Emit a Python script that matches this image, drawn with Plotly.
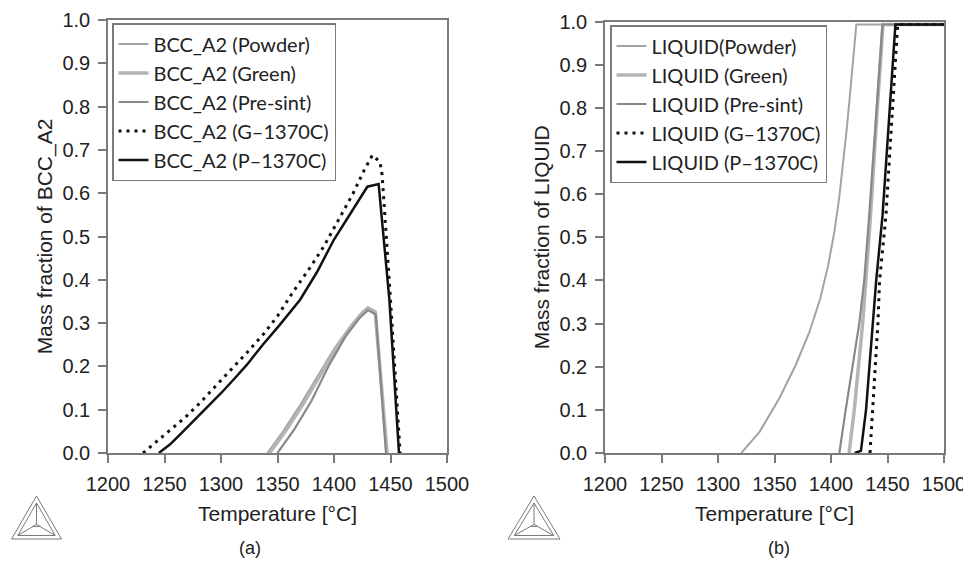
import plotly.graph_objects as go
from plotly.subplots import make_subplots

# ---------------- data ----------------
# Panel (a): mass fraction of BCC_A2 vs temperature
bcc_powder_T = [1341, 1355, 1370, 1385, 1400, 1415, 1425, 1429.5, 1436, 1447]
bcc_powder_v = [0, 0.05, 0.11, 0.175, 0.24, 0.295, 0.325, 0.334, 0.325, 0]
bcc_green_T = [1343, 1357, 1372, 1387, 1401, 1416, 1426, 1430, 1436.5, 1447]
bcc_green_v = [0, 0.05, 0.11, 0.175, 0.238, 0.295, 0.326, 0.335, 0.326, 0]
bcc_presint_T = [1350, 1365, 1380, 1395, 1410, 1422, 1430, 1437, 1446]
bcc_presint_v = [0, 0.055, 0.12, 0.20, 0.268, 0.31, 0.33, 0.32, 0]
bcc_g1370_T = [1231, 1240, 1250, 1259, 1268.6, 1280, 1290, 1308, 1323, 1338, 1350, 1364,
               1378, 1391, 1404, 1417, 1427, 1434, 1440.7, 1442.6, 1449.8, 1458.5]
bcc_g1370_v = [0, 0.02, 0.04, 0.06, 0.083, 0.112, 0.14, 0.189, 0.232, 0.276, 0.316, 0.373,
               0.425, 0.477, 0.537, 0.60, 0.655, 0.688, 0.672, 0.642, 0.362, 0]
bcc_p1370_T = [1245, 1255, 1265, 1275, 1285, 1300, 1312, 1323, 1337, 1352, 1370, 1385,
               1400, 1415, 1429.5, 1439.5, 1449, 1457.5]
bcc_p1370_v = [0, 0.02, 0.046, 0.072, 0.10, 0.138, 0.172, 0.204, 0.25, 0.296, 0.354, 0.418,
               0.493, 0.555, 0.615, 0.621, 0.354, 0]

# Panel (b): mass fraction of LIQUID vs temperature
liq_powder_T = [1320.6, 1336.8, 1354.3, 1368.8, 1381.0, 1390.5, 1397.6, 1403.0, 1407.2,
                1410.7, 1413.7, 1416.5, 1419.2, 1422.4, 1500]
liq_powder_v = [0, 0.049, 0.127, 0.204, 0.281, 0.358, 0.436, 0.513, 0.590,
                0.667, 0.745, 0.822, 0.899, 0.993, 0.993]
liq_green_T = [1416, 1420.6, 1428, 1431, 1435, 1440.5, 1446, 1500]
liq_green_v = [0, 0.1, 0.3, 0.4, 0.55, 0.78, 0.993, 0.993]
liq_presint_T = [1407.4, 1413, 1425, 1429.4, 1433.8, 1439.7, 1445.5, 1500]
liq_presint_v = [0, 0.1, 0.3, 0.4, 0.55, 0.78, 0.993, 0.993]
liq_g1370_T = [1434.5, 1437, 1441.5, 1443, 1448.6, 1454, 1459, 1500]
liq_g1370_v = [0, 0.1, 0.3, 0.4, 0.55, 0.78, 0.993, 0.993]
liq_p1370_T = [1421, 1426.5, 1431, 1437, 1440, 1445.6, 1451.5, 1457, 1500]
liq_p1370_v = [0, 0.005, 0.1, 0.3, 0.4, 0.55, 0.78, 0.993, 0.993]

bcc_names = ["BCC_A2 (Powder)", "BCC_A2 (Green)", "BCC_A2 (Pre-sint)",
             "BCC_A2 (G\u20131370C)", "BCC_A2 (P\u20131370C)"]
liq_names = ["LIQUID(Powder)", "LIQUID (Green)", "LIQUID (Pre-sint)",
             "LIQUID (G\u20131370C)", "LIQUID (P\u20131370C)"]

x_ticks = [1200, 1250, 1300, 1350, 1400, 1450, 1500]
y_ticks = [0.0, 0.1, 0.2, 0.3, 0.4, 0.5, 0.6, 0.7, 0.8, 0.9, 1.0]

# ---------------- figure ----------------
# page pixels are figure pixels + 8 (default body margin of the html page)
OFF = 8
W, H = 971, 565
ML = 108 - OFF
MT = 20 - OFF
MR = W - (944 - OFF)
MB = H - (453 - OFF)
PW, PH = W - ML - MR, H - MT - MB


def px(x):
    return (x - OFF - ML) / PW


def py(y):
    return (H - MB - (y - OFF)) / PH


fig = make_subplots(rows=1, cols=2)

styles = [
    dict(color="#a3a3a3", width=2),
    dict(color="#b4b4b4", width=3.5),
    dict(color="#888888", width=2.2),
    dict(color="#111111", width=3, dash="3px,5px"),
    dict(color="#111111", width=2.5),
]

bcc_T = [bcc_powder_T, bcc_green_T, bcc_presint_T, bcc_g1370_T, bcc_p1370_T]
bcc_v = [bcc_powder_v, bcc_green_v, bcc_presint_v, bcc_g1370_v, bcc_p1370_v]
liq_T = [liq_powder_T, liq_green_T, liq_presint_T, liq_g1370_T, liq_p1370_T]
liq_v = [liq_powder_v, liq_green_v, liq_presint_v, liq_g1370_v, liq_p1370_v]

for name, t, v, st in zip(bcc_names, bcc_T, bcc_v, styles):
    fig.add_trace(go.Scatter(x=t, y=v, mode="lines", name=name, line=st,
                             legend="legend"), row=1, col=1)
for name, t, v, st in zip(liq_names, liq_T, liq_v, styles):
    fig.add_trace(go.Scatter(x=t, y=v, mode="lines", name=name, line=st,
                             legend="legend2"), row=1, col=2)

FONT = "Arial"
axis_common = dict(
    showgrid=False, zeroline=False, showline=True, linecolor="#7a7a7a",
    linewidth=1.5, mirror=True, ticks="outside", ticklen=8, tickwidth=1.5,
    tickcolor="#7a7a7a", automargin=False,
    tickfont=dict(family=FONT, size=20, color="#222"),
)
title_font = dict(family=FONT, size=21, color="#222")

fig.update_xaxes(range=[1200, 1500], tickvals=x_ticks, domain=[0, px(447)],
                 title=dict(text="Temperature [\u00b0C]", font=title_font, standoff=13),
                 ticklabelstandoff=4, **axis_common, row=1, col=1)
fig.update_xaxes(range=[1200, 1500], tickvals=x_ticks, domain=[px(605), 1.0],
                 title=dict(text="Temperature [\u00b0C]", font=title_font, standoff=13),
                 ticklabelstandoff=4, **axis_common, row=1, col=2)
fig.update_yaxes(range=[0, 1], tickvals=y_ticks, tickformat=".1f", domain=[0, 1.0],
                 title=dict(text="Mass fraction of BCC_A2", font=title_font, standoff=4),
                 ticklabelstandoff=4, **axis_common, row=1, col=1)
fig.update_yaxes(range=[0, 1], tickvals=y_ticks, tickformat=".1f", domain=[0, py(21.5)],
                 title=dict(text="Mass fraction of LIQUID", font=title_font, standoff=4),
                 ticklabelstandoff=4, **axis_common, row=1, col=2)

legend_common = dict(
    bgcolor="white", bordercolor="#7a7a7a", borderwidth=1.5,
    font=dict(family="Lato, Arial", size=20, color="#222"),
    itemwidth=30, xanchor="left", yanchor="top", tracegroupgap=0,
)

# Thermo-Calc style triangle logos (decoration)
shapes = []


def logo(cx, top, half, h):
    ax_, ay_ = cx, top
    blx, bly = cx - half, top + h
    brx, bry = cx + half, top + h
    ccx, ccy = cx, top + h * 0.66
    ins = 3.5
    paths = [
        f"M {px(ax_)},{py(ay_)} L {px(blx)},{py(bly)} L {px(brx)},{py(bry)} Z",
        f"M {px(ax_)},{py(ay_ + ins * 2)} L {px(blx + ins * 1.8)},{py(bly - ins)} L {px(brx - ins * 1.8)},{py(bry - ins)} Z",
        f"M {px(ax_)},{py(ay_ + ins * 2)} L {px(ccx)},{py(ccy)}",
        f"M {px(ccx)},{py(ccy)} L {px(blx + ins * 1.8)},{py(bly - ins)}",
        f"M {px(ccx)},{py(ccy)} L {px(brx - ins * 1.8)},{py(bry - ins)}",
        f"M {px(ccx - 4)},{py(ccy + 2)} L {px(ccx + 4)},{py(ccy + 2)}",
    ]
    for p in paths:
        shapes.append(dict(type="path", xref="paper", yref="paper", path=p,
                           line=dict(color="#7a7a7a", width=1)))


logo(36.5, 496, 25, 43)
logo(534, 496, 26, 43)

fig.update_layout(
    width=W, height=H,
    margin=dict(l=ML, r=MR, t=MT, b=MB, autoexpand=False),
    paper_bgcolor="white", plot_bgcolor="white",
    showlegend=True,
    legend=dict(x=px(112), y=py(23), **legend_common),
    legend2=dict(x=px(610), y=py(25), **legend_common),
    shapes=shapes,
    annotations=[
        dict(text="(a)", x=px(250), y=py(548), xref="paper", yref="paper",
             xanchor="center", yanchor="middle", showarrow=False,
             font=dict(family=FONT, size=18, color="#222")),
        dict(text="(b)", x=px(779), y=py(548), xref="paper", yref="paper",
             xanchor="center", yanchor="middle", showarrow=False,
             font=dict(family=FONT, size=18, color="#222")),
    ],
)

fig.write_html("out.html")
